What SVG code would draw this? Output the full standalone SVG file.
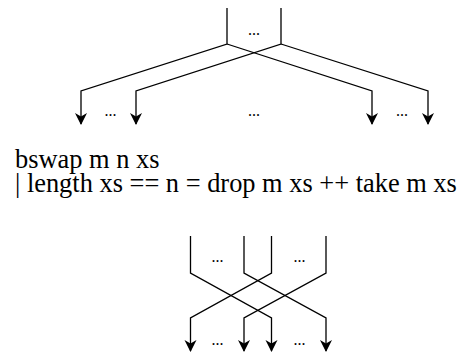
<svg xmlns="http://www.w3.org/2000/svg" width="461" height="356" viewBox="0 0 461 356">
<defs>
<marker id="ah" markerUnits="userSpaceOnUse" viewBox="-1 -6.5 14 13" refX="11" refY="0" markerWidth="14" markerHeight="13" orient="auto">
<path d="M0,-6 L12,0 L0,6 L3.5,0 z" fill="#000"/>
</marker>
</defs>
<g id="connectors" fill="none" stroke="#000" stroke-width="1.3" marker-end="url(#ah)">
<path d="M227,8 V44 L81,91 V124"/>
<path d="M227,44 L372,91 V124"/>
<path d="M281,8 V44 L136,91 V124"/>
<path d="M281,44 L428,91 V124"/>
<path d="M190.5,236 V273 L271.5,318 V351"/>
<path d="M244,236 V273 L326,318 V351"/>
<path d="M271.5,236 V273 L190.5,318 V351"/>
<path d="M326,236 V273 L244,318 V351"/>
</g>
<g id="dots-top" font-family="Liberation Serif" font-size="16" text-anchor="middle">
<text x="254" y="35" font-family="Liberation Serif">...</text>
<text x="110.5" y="116" font-family="Liberation Serif">...</text>
<text x="254" y="116" font-family="Liberation Serif">...</text>
<text x="402" y="116" font-family="Liberation Serif">...</text>
</g>
<g id="code" font-family="Liberation Serif" font-size="26.4">
<text x="15" y="168" font-family="Liberation Serif">bswap m n xs</text>
<text x="15" y="192" font-family="Liberation Serif">| length xs == n = drop m xs ++ take m xs</text>
</g>
<g id="dots-bottom" font-family="Liberation Serif" font-size="16" text-anchor="middle">
<text x="217.5" y="262" font-family="Liberation Serif">...</text>
<text x="299.5" y="262" font-family="Liberation Serif">...</text>
<text x="217.5" y="345" font-family="Liberation Serif">...</text>
<text x="299.5" y="345" font-family="Liberation Serif">...</text>
</g>
</svg>
